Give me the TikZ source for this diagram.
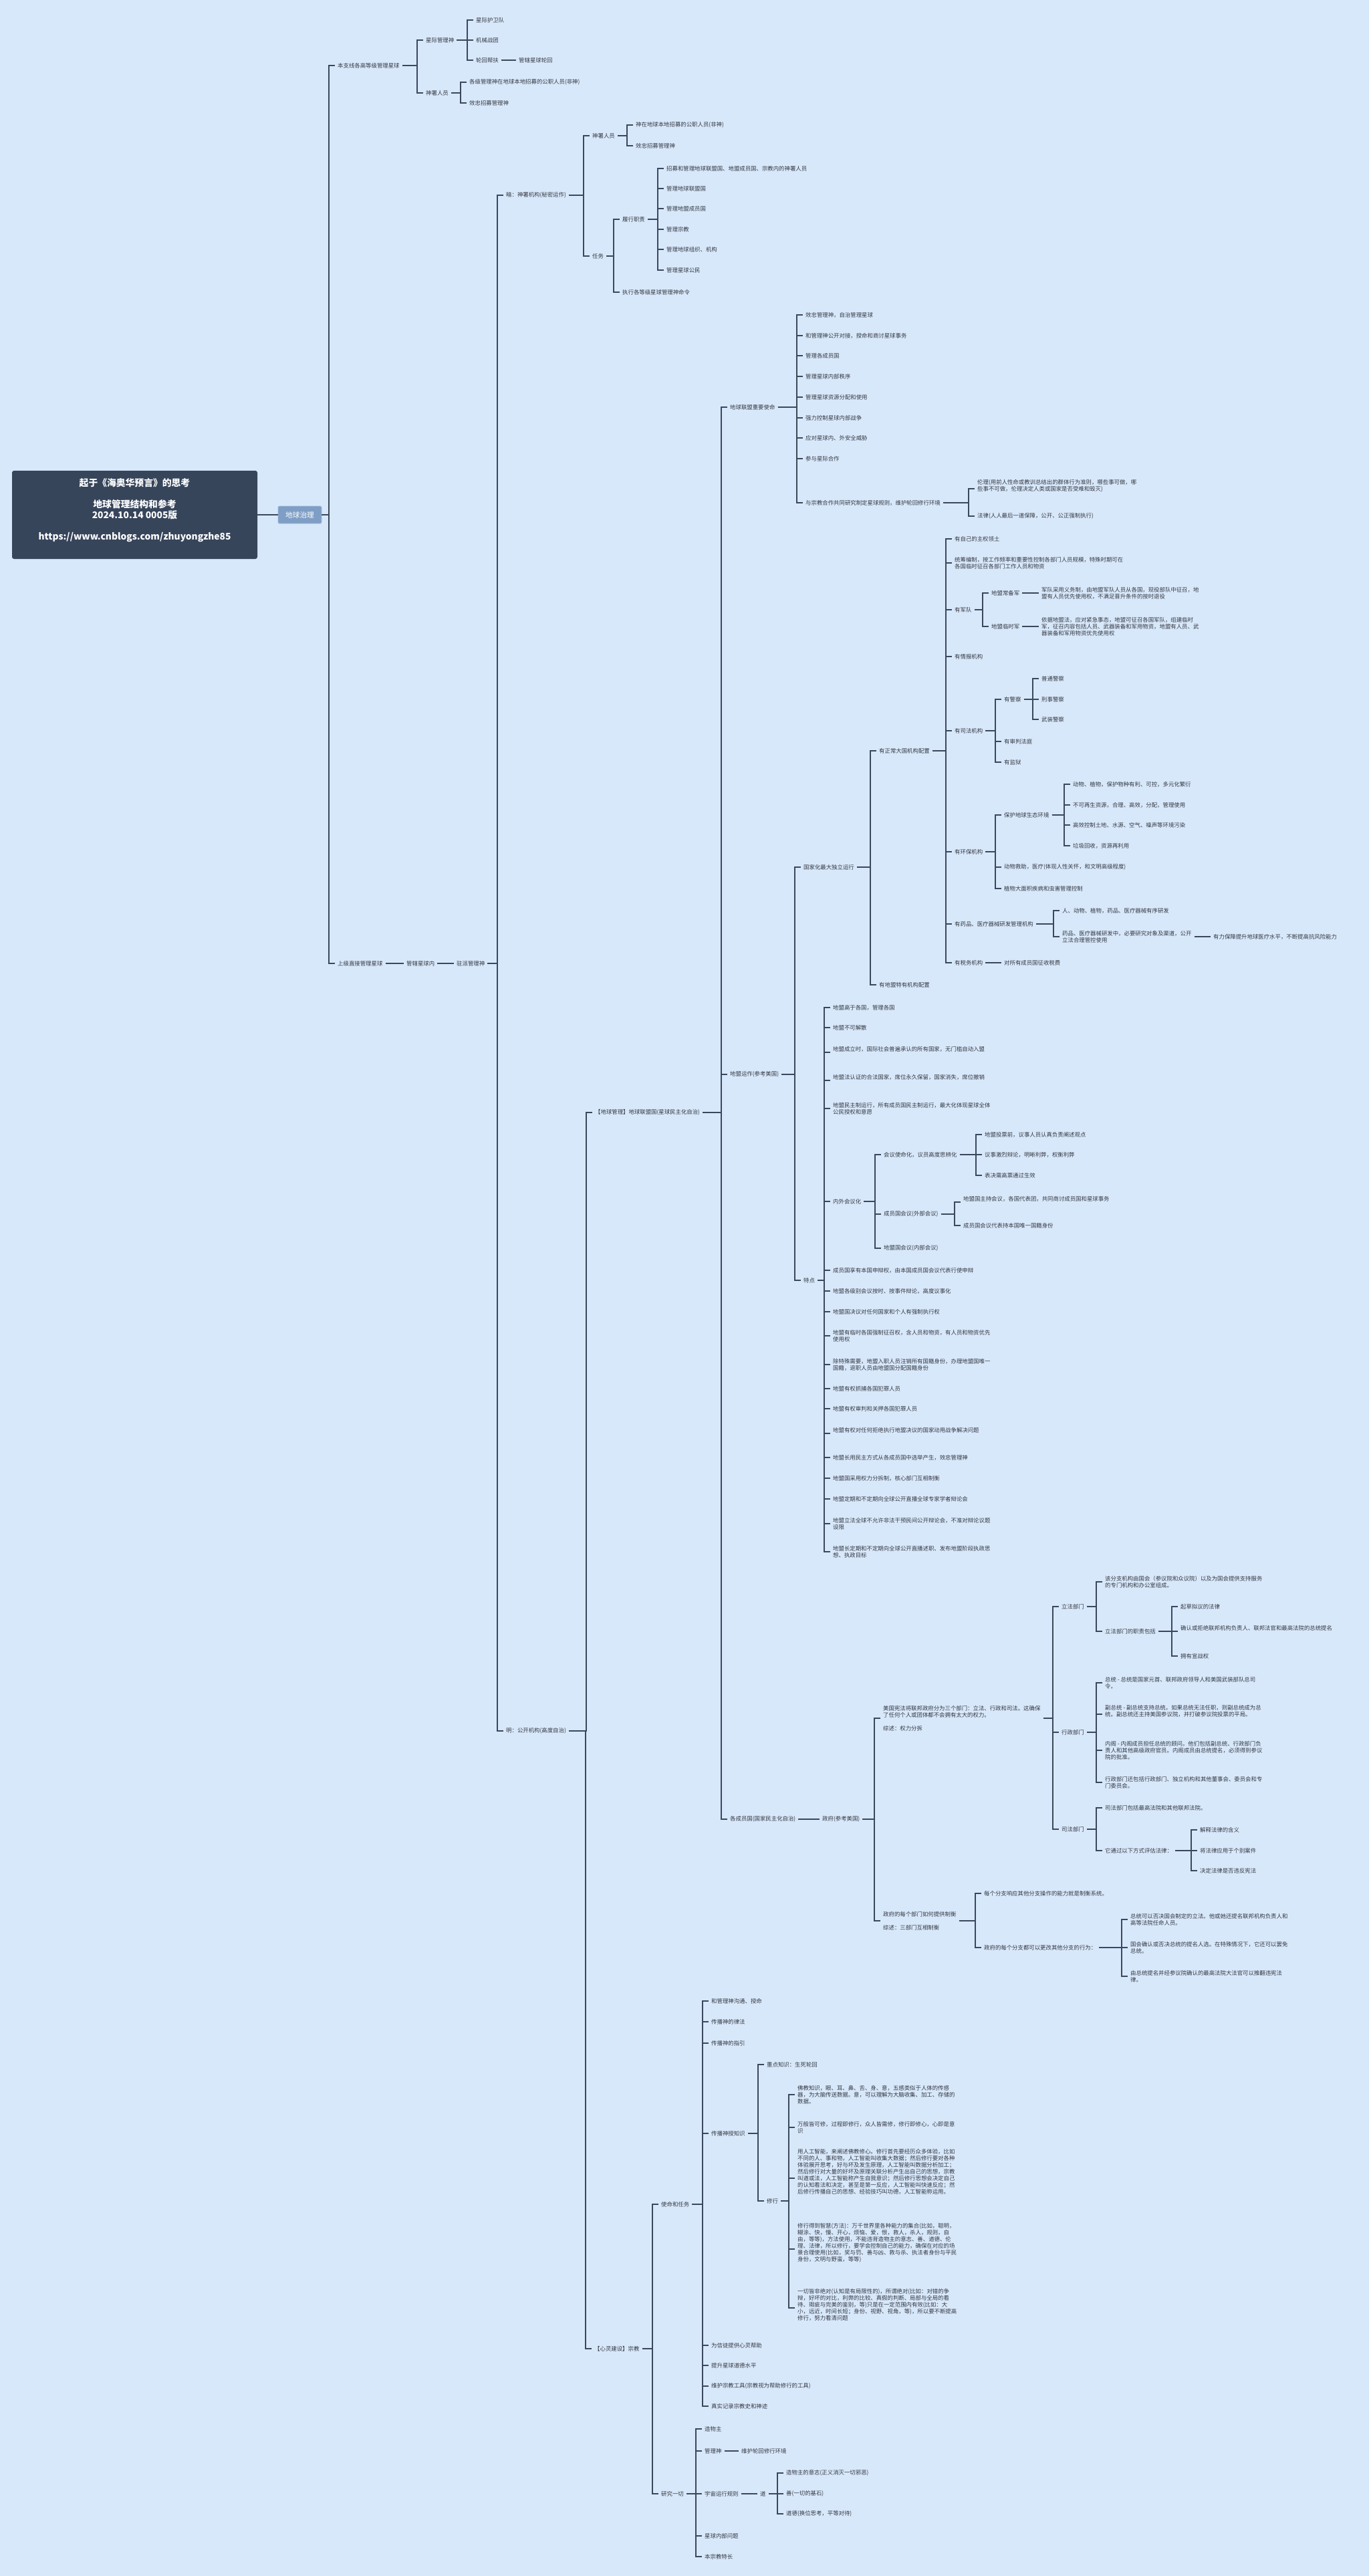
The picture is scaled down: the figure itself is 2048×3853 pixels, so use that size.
\documentclass[tikz,border=0pt]{standalone}
\usepackage{fontspec}
\setmainfont{Noto Sans CJK SC}
\definecolor{bgc}{RGB}{216,232,251}
\definecolor{lnc}{RGB}{58,72,94}
\definecolor{txc}{RGB}{52,56,64}
\definecolor{rootc}{RGB}{55,69,91}
\definecolor{topc}{RGB}{127,158,198}
\tikzset{
  ln/.style={draw=lnc, line width=1.3pt},
  t/.style={anchor=west, xshift=-4pt, inner xsep=4pt, inner ysep=1pt,
    font=\fontsize{8.4}{10}\selectfont, text=txc, align=left},
  rootbox/.style={fill=rootc, text=white, rounded corners=3pt, minimum width=367pt,
    minimum height=132pt, align=center, inner sep=0pt,
    font=\fontsize{13.8}{16}\selectfont\bfseries},
  topic/.style={fill=topc, draw=topc!70!white, line width=0.8pt, text=white, rounded corners=2pt,
    minimum width=65pt, minimum height=26pt, inner sep=0pt,
    font=\fontsize{10.7}{12}\selectfont}
}
\newcommand\N[4]{\node[t] (#1) at (#2,#3) {#4};}
\newcommand\conn[2]{\foreach \c in {#2}{\draw[ln] (#1.east) -| ([xshift=-9pt]\c.west) -- (\c.west);}}
\begin{document}
\begin{tikzpicture}[x=1pt,y=-1pt]
\fill[bgc] (0,0) rectangle (2048,3853);
\useasboundingbox (0,0) rectangle (2048,3853);

\node[rootbox] (root) at (201.5,770) {起于《海奥华预言》的思考\\[16pt]地球管理结构和参考\\2024.10.14 0005版\\[16pt]https://www.cnblogs.com/zhuyongzhe85\\\mbox{}};
\node[topic] (g) at (448.5,770) {地球治理};
\draw[ln] (root.east) -- (g.west);

% upper branch
\N{a1}{505}{98}{本支线各高等级管理星球}
\N{a2}{637}{60}{星际管理神}
\N{a3}{712}{30}{星际护卫队}
\N{a4}{712}{60}{机械战团}
\N{a5}{712}{90}{轮回帮扶}
\N{a6}{776}{90}{管辖星球轮回}
\N{a7}{637}{139}{神署人员}
\N{a8}{702}{123}{各级管理神在地球本地招募的公职人员(非神)}
\N{a9}{702}{154}{效忠招募管理神}

\N{b1}{505}{1441}{上级直接管理星球}
\N{b2}{608}{1441}{管辖星球内}
\N{b3}{683}{1441}{驻派管理神}

% dark branch
\N{c1}{757}{292}{暗：神署机构(秘密运作)}
\N{c2}{886}{203}{神署人员}
\N{c3}{951}{187}{神在地球本地招募的公职人员(非神)}
\N{c4}{951}{218}{效忠招募管理神}
\N{c5}{886}{383}{任务}
\N{c6}{931}{328}{履行职责}
\N{c7}{997}{252}{招募和管理地球联盟国、地盟成员国、宗教内的神署人员}
\N{c8}{997}{282}{管理地球联盟国}
\N{c9}{997}{312}{管理地盟成员国}
\N{c10}{997}{343}{管理宗教}
\N{c11}{997}{373}{管理地球组织、机构}
\N{c12}{997}{404}{管理星球公民}
\N{c13}{931}{437}{执行各等级星球管理神命令}

% bright branch
\N{d1}{757}{2589}{明：公开机构(高度自治)}
\N{e1}{890}{1664}{【地球管理】地球联盟国(星球民主化自治)}
\N{f1}{1092}{609}{地球联盟重要使命}
\N{f2}{1205}{471}{效忠管理神，自治管理星球}
\N{f3}{1205}{502}{和管理神公开对接，授命和商讨星球事务}
\N{f4}{1205}{532}{管理各成员国}
\N{f5}{1205}{563}{管理星球内部秩序}
\N{f6}{1205}{594}{管理星球资源分配和使用}
\N{f7}{1205}{625}{强力控制星球内部战争}
\N{f8}{1205}{655}{应对星球内、外安全威胁}
\N{f9}{1205}{686}{参与星际合作}
\N{f10}{1205}{752}{与宗教合作共同研究制定星球规则，维护轮回修行环境}
\N{f11}{1462}{731}{伦理(用前人性命或教训总结出的群体行为准则，哪些事可做，哪\\些事不可做，伦理决定人类或国家是否受难和毁灭)\\\mbox{}}
\N{f12}{1462}{772}{法律(人人最后一道保障，公开、公正强制执行)}

\N{g1}{1092}{1607}{地盟运作(参考美国)}
\N{g2}{1202}{1297}{国家化最大独立运行}
\N{g3}{1315}{1123}{有正常大国机构配置}
\N{h1}{1428}{806}{有自己的主权领土}
\N{h2}{1428}{842}{统筹编制，按工作频率和重要性控制各部门人员规模，特殊时期可在\\各国临时征召各部门工作人员和物资}
\N{h3}{1428}{912}{有军队}
\N{h4}{1483}{887}{地盟常备军}
\N{h5}{1558}{887}{军队采用义务制，由地盟军队人员从各国，现役部队中征召，地\\盟有人员优先使用权，不满足晋升条件的按时退役}
\N{h6}{1483}{937}{地盟临时军}
\N{h7}{1558}{937}{依据地盟法，应对紧急事态，地盟可征召各国军队，组建临时\\军，征召内容包括人员、武器装备和军用物资，地盟有人员、武\\器装备和军用物资优先使用权}
\N{h8}{1428}{982}{有情报机构}
\N{h9}{1428}{1093}{有司法机构}
\N{h10}{1502}{1046}{有警察}
\N{h11}{1558}{1015}{普通警察}
\N{h12}{1558}{1046}{刑事警察}
\N{h13}{1558}{1076}{武装警察}
\N{h14}{1502}{1109}{有审判法庭}
\N{h15}{1502}{1140}{有监狱}
\N{h16}{1428}{1274}{有环保机构}
\N{h17}{1502}{1219}{保护地球生态环境}
\N{h18}{1605}{1173}{动物、植物，保护物种有利、可控，多元化繁衍}
\N{h19}{1605}{1204}{不可再生资源，合理、高效，分配，管理使用}
\N{h20}{1605}{1234}{高效控制土地、水源、空气、噪声等环境污染}
\N{h21}{1605}{1265}{垃圾回收，资源再利用}
\N{h22}{1502}{1297}{动物救助，医疗(体现人性关怀，和文明高级程度)}
\N{h23}{1502}{1329}{植物大面积疾病和虫害管理控制}
\N{h24}{1428}{1382}{有药品、医疗器械研发管理机构}
\N{h25}{1589}{1362}{人、动物、植物，药品、医疗器械有序研发}
\N{h26}{1589}{1401}{药品、医疗器械研发中，必要研究对象及渠道，公开\\立法合理管控使用}
\N{h27}{1815}{1401}{有力保障提升地球医疗水平，不断提高抗风险能力}
\N{h28}{1428}{1440}{有税务机构}
\N{h29}{1502}{1440}{对所有成员国征收税费}
\N{g4}{1315}{1473}{有地盟特有机构配置}

\N{i1}{1202}{1915}{特点}
\N{i2}{1246}{1507}{地盟高于各国，管理各国}
\N{i3}{1246}{1537}{地盟不可解散}
\N{i4}{1246}{1574}{地盟成立时，国际社会普遍承认的所有国家，无门槛自动入盟\\\mbox{}}
\N{i5}{1246}{1616}{地盟法认证的合法国家，席位永久保留，国家消失，席位撤销\\\mbox{}}
\N{i6}{1246}{1658}{地盟民主制运行，所有成员国民主制运行，最大化体现星球全体\\公民授权和意愿}
\N{i7}{1246}{1797}{内外会议化}
\N{i8}{1322}{1727}{会议使命化，议员高度思辨化}
\N{i9}{1473}{1697}{地盟投票前，议事人员认真负责阐述观点}
\N{i10}{1473}{1727}{议事激烈辩论，明晰利弊，权衡利弊}
\N{i11}{1473}{1758}{表决需高票通过生效}
\N{i12}{1322}{1816}{成员国会议(外部会议)}
\N{i13}{1441}{1798}{地盟国主持会议，各国代表团，共同商讨成员国和星球事务\\\mbox{}}
\N{i14}{1441}{1833}{成员国会议代表持本国唯一国籍身份}
\N{i15}{1322}{1867}{地盟国会议(内部会议)}
\N{i16}{1246}{1900}{成员国享有本国申辩权，由本国成员国会议代表行使申辩}
\N{i17}{1246}{1931}{地盟各级别会议按时、按事件辩论，高度议事化}
\N{i18}{1246}{1962}{地盟国决议对任何国家和个人有强制执行权}
\N{i19}{1246}{1998}{地盟有临时各国强制征召权，含人员和物资，有人员和物资优先\\使用权}
\N{i20}{1246}{2041}{除特殊需要，地盟入职人员注销所有国籍身份，办理地盟国唯一\\国籍，退职人员由地盟国分配国籍身份}
\N{i21}{1246}{2077}{地盟有权抓捕各国犯罪人员}
\N{i22}{1246}{2107}{地盟有权审判和关押各国犯罪人员}
\N{i23}{1246}{2144}{地盟有权对任何拒绝执行地盟决议的国家动用战争解决问题\\\mbox{}}
\N{i24}{1246}{2180}{地盟长用民主方式从各成员国中选举产生，效忠管理神}
\N{i25}{1246}{2211}{地盟国采用权力分拆制，核心部门互相制衡}
\N{i26}{1246}{2242}{地盟定期和不定期向全球公开直播全球专家学者辩论会}
\N{i27}{1246}{2279}{地盟立法全球不允许非法干预民间公开辩论会，不准对辩论议题\\设限}
\N{i28}{1246}{2321}{地盟长定期和不定期向全球公开直播述职、发布地盟阶段执政思\\想、执政目标}

\N{j1}{1092}{2721}{各成员国(国家民主化自治)}
\N{j2}{1230}{2721}{政府(参考美国)}
\N{j3}{1321}{2570}{美国宪法将联邦政府分为三个部门：立法、行政和司法。这确保\\了任何个人或团体都不会拥有太大的权力。\\[10pt]综述：权力分拆}
\N{j4}{1588}{2403}{立法部门}
\N{j5}{1653}{2366}{该分支机构由国会（参议院和众议院）以及为国会提供支持服务\\的专门机构和办公室组成。}
\N{j6}{1653}{2440}{立法部门的职责包括}
\N{j7}{1766}{2403}{起草拟议的法律}
\N{j8}{1766}{2440}{确认或拒绝联邦机构负责人、联邦法官和最高法院的总统提名\\\mbox{}}
\N{j9}{1766}{2477}{拥有宣战权}
\N{j10}{1588}{2591}{行政部门}
\N{j11}{1653}{2517}{总统 - 总统是国家元首、联邦政府领导人和美国武装部队总司\\令。}
\N{j12}{1653}{2564}{副总统 - 副总统支持总统。如果总统无法任职，则副总统成为总\\统。副总统还主持美国参议院，并打破参议院投票的平局。\\\mbox{}}
\N{j13}{1653}{2618}{内阁 - 内阁成员担任总统的顾问。他们包括副总统、行政部门负\\责人和其他高级政府官员。内阁成员由总统提名，必须得到参议\\院的批准。}
\N{j14}{1653}{2666}{行政部门还包括行政部门、独立机构和其他董事会、委员会和专\\门委员会。}
\N{j15}{1588}{2736}{司法部门}
\N{j16}{1653}{2704}{司法部门包括最高法院和其他联邦法院。}
\N{j17}{1653}{2768}{它通过以下方式评估法律：}
\N{j18}{1795}{2737}{解释法律的含义}
\N{j19}{1795}{2768}{将法律应用于个别案件}
\N{j20}{1795}{2798}{决定法律是否违反宪法}
\N{j21}{1321}{2873}{政府的每个部门如何提供制衡\\[10pt]综述：三部门互相制衡}
\N{j22}{1472}{2832}{每个分支响应其他分支操作的能力就是制衡系统。}
\N{j23}{1472}{2913}{政府的每个分支都可以更改其他分支的行为：}
\N{j24}{1691}{2871}{总统可以否决国会制定的立法。他或她还提名联邦机构负责人和\\高等法院任命人员。}
\N{j25}{1691}{2913}{国会确认或否决总统的提名人选。在特殊情况下，它还可以罢免\\总统。}
\N{j26}{1691}{2956}{由总统提名并经参议院确认的最高法院大法官可以推翻违宪法\\律。}

\N{k1}{889}{3513}{【心灵建设】宗教}
\N{k2}{989}{3297}{使命和任务}
\N{k3}{1064}{2993}{和管理神沟通、授命}
\N{k4}{1064}{3024}{传播神的律法}
\N{k5}{1064}{3056}{传播神的指引}
\N{k6}{1064}{3191}{传播神授知识}
\N{k7}{1147}{3088}{重点知识：生死轮回}
\N{k8}{1147}{3292}{修行}
\N{k9}{1193}{3133}{佛教知识，眼、耳、鼻、舌、身、意，五感类似于人体的传感\\器，为大脑传送数据。意，可以理解为大脑收集、加工、存储的\\数据。}
\N{k10}{1193}{3182}{万般皆可修，过程即修行，众人皆需修，修行即修心，心即是意\\识}
\N{k11}{1193}{3258}{用人工智能，来阐述佛教修心。修行首先要经历众多体验，比如\\不同的人、事和物，人工智能叫收集大数据；然后修行要对各种\\体验展开思考，好与坏及发生原理，人工智能叫数据分析加工；\\然后修行对大量的好坏及原理关联分析产生出自己的思想，宗教\\叫道或法，人工智能称产生自我意识；然后修行思想会决定自己\\的认知看法和决定，甚至是第一反应，人工智能叫快速反应；然\\后修行传播自己的思想、经验技巧叫功德，人工智能称运用。\\[10pt]\mbox{}}
\N{k12}{1193}{3364}{修行得到智慧(方法)：万千世界里各种能力的集合(比如，聪明，\\糊涂、快，慢、开心，烦恼、爱，恨，救人，杀人，规则，自\\由，等等)，方法使用，不能违背造物主的意志、善、道德、伦\\理、法律，所以修行，要学会控制自己的能力，确保在对应的场\\景合理使用(比如，奖与罚、善与凶、救与杀、执法者身份与平民\\身份，文明与野蛮，等等)\\[10pt]\mbox{}}
\N{k13}{1193}{3452}{一切皆非绝对(认知是有局限性的)，所谓绝对(比如：对错的争\\辩，好坏的对比，利弊的比较、真假的判断、局部与全局的看\\待、瑕疵与完美的鉴别，等)只是在一定范围内有效(比如：大\\小，远近，时间长短；身份、视野、视角，等)，所以要不断提高\\修行，努力看清问题\\\mbox{}}
\N{k14}{1064}{3508}{为信徒提供心灵帮助}
\N{k15}{1064}{3538}{提升星球道德水平}
\N{k16}{1064}{3569}{维护宗教工具(宗教视为帮助修行的工具)}
\N{k17}{1064}{3599}{真实记录宗教史和神迹}
\N{k18}{989}{3730}{研究一切}
\N{k19}{1054}{3633}{造物主}
\N{k20}{1054}{3666}{管理神}
\N{k21}{1109}{3666}{维护轮回修行环境}
\N{k22}{1054}{3730}{宇宙运行规则}
\N{k23}{1137}{3730}{道}
\N{k24}{1176}{3699}{造物主的意志(正义消灭一切邪恶)}
\N{k25}{1176}{3730}{善(一切的基石)}
\N{k26}{1176}{3760}{道德(换位思考，平等对待)}
\N{k27}{1054}{3793}{星球内部问题}
\N{k28}{1054}{3824}{本宗教特长}

% connectors
\conn{g}{a1,b1}
\conn{a1}{a2,a7}
\conn{a2}{a3,a4,a5}
\conn{a5}{a6}
\conn{a7}{a8,a9}
\conn{b1}{b2}
\conn{b2}{b3}
\conn{b3}{c1,d1}
\conn{c1}{c2,c5}
\conn{c2}{c3,c4}
\conn{c5}{c6,c13}
\conn{c6}{c7,c8,c9,c10,c11,c12}
\conn{d1}{e1,k1}
\conn{e1}{f1,g1,j1}
\conn{f1}{f2,f3,f4,f5,f6,f7,f8,f9,f10}
\conn{f10}{f11,f12}
\conn{g1}{g2,i1}
\conn{g2}{g3,g4}
\conn{g3}{h1,h2,h3,h8,h9,h16,h24,h28}
\conn{h3}{h4,h6}
\conn{h4}{h5}
\conn{h6}{h7}
\conn{h9}{h10,h14,h15}
\conn{h10}{h11,h12,h13}
\conn{h16}{h17,h22,h23}
\conn{h17}{h18,h19,h20,h21}
\conn{h24}{h25,h26}
\conn{h26}{h27}
\conn{h28}{h29}
\conn{i1}{i2,i3,i4,i5,i6,i7,i16,i17,i18,i19,i20,i21,i22,i23,i24,i25,i26,i27,i28}
\conn{i7}{i8,i12,i15}
\conn{i8}{i9,i10,i11}
\conn{i12}{i13,i14}
\conn{j1}{j2}
\conn{j2}{j3,j21}
\conn{j3}{j4,j10,j15}
\conn{j4}{j5,j6}
\conn{j6}{j7,j8,j9}
\conn{j10}{j11,j12,j13,j14}
\conn{j15}{j16,j17}
\conn{j17}{j18,j19,j20}
\conn{j21}{j22,j23}
\conn{j23}{j24,j25,j26}
\conn{k1}{k2,k18}
\conn{k2}{k3,k4,k5,k6,k14,k15,k16,k17}
\conn{k6}{k7,k8}
\conn{k8}{k9,k10,k11,k12,k13}
\conn{k18}{k19,k20,k22,k27,k28}
\conn{k20}{k21}
\conn{k22}{k23}
\conn{k23}{k24,k25,k26}
\end{tikzpicture}
\end{document}
